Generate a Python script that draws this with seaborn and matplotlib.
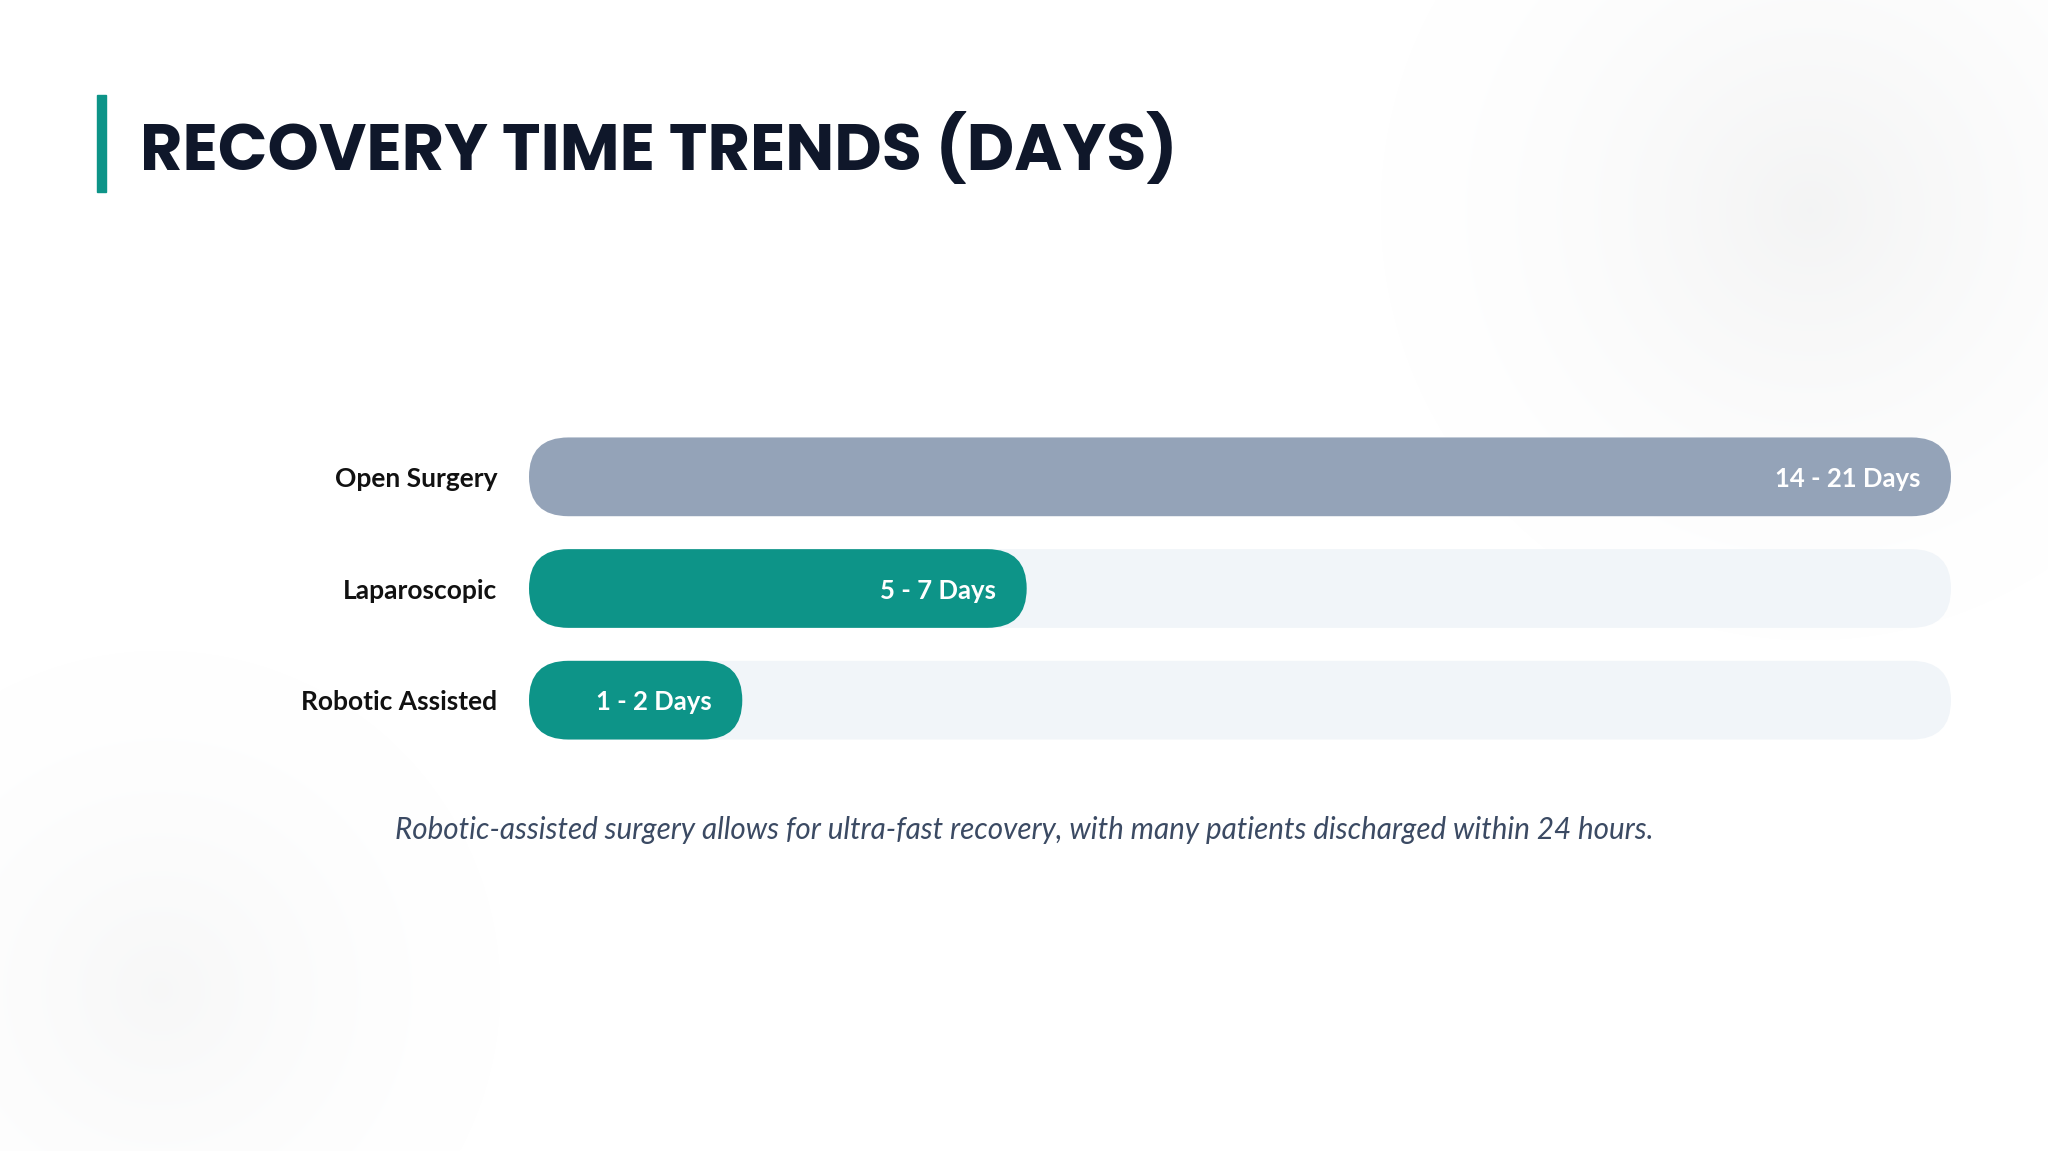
import numpy as np
import pandas as pd
import matplotlib
matplotlib.use("Agg")
import matplotlib.pyplot as plt
from matplotlib.patches import FancyBboxPatch, Rectangle
import seaborn as sns

# ---- data ----
categories = ["Open Surgery", "Laparoscopic", "Robotic Assisted"]
bar_pct = [100, 35, 15]          # bar length as % of track
value_labels = ["14 - 21 Days", "5 - 7 Days", "1 - 2 Days"]
track_pct = [100, 100, 100]
title = "RECOVERY TIME TRENDS (DAYS)"
caption = "Robotic-assisted surgery allows for ultra-fast recovery, with many patients discharged within 24 hours."

TEAL = "#0d9488"
SLATE = "#94a3b8"
TRACK = "#f1f5f9"
DARK = "#0f172a"

sns.set_theme(style="white")
plt.rcParams["font.family"] = ["Lato", "DejaVu Sans"]

W, H = 2048, 1151
DPI = 100
fig = plt.figure(figsize=(W / DPI, H / DPI), dpi=DPI)
fig.patch.set_facecolor("white")

# ---- background soft radial glows ----
bg = fig.add_axes([0, 0, 1, 1], zorder=-10)
yy, xx = np.mgrid[0:H, 0:W]
def glow(cx, cy, r, strength):
    d = np.sqrt((xx - cx) ** 2 + (yy - cy) ** 2) / r
    return strength * np.clip(1 - d, 0, 1) ** 1.5
shade = glow(1810, 210, 430, 0.045) + glow(160, 990, 340, 0.03)
img = np.ones((H, W, 3)) - shade[..., None] * np.array([1.0, 0.97, 0.95])
bg.imshow(img, extent=[0, W, H, 0], aspect="auto", interpolation="bilinear")
bg.set_xlim(0, W); bg.set_ylim(H, 0); bg.axis("off")

# title accent + title
fig.patches.append(Rectangle((97 / W, 1 - 192 / H), 9 / W, 97 / H,
                             transform=fig.transFigure, color=TEAL, zorder=5))
fig.text(140 / W, 1 - 170 / H, title, fontsize=47, fontweight="bold",
         family=["Poppins", "Inter", "DejaVu Sans"], color=DARK, va="baseline", ha="left")

# ---- bar chart ----
ax_left, ax_right = 529, 1951
ax_top, ax_bot = 421, 756
ax = fig.add_axes([ax_left / W, 1 - ax_bot / H, (ax_right - ax_left) / W, (ax_bot - ax_top) / H])
ax.set_facecolor("none")

df = pd.DataFrame({"cat": categories, "track": track_pct, "val": bar_pct})
bw = 0.705
sns.barplot(data=df, y="cat", x="track", color=TRACK, width=bw, ax=ax, orient="h",
            saturation=1)
sns.barplot(data=df, y="cat", x="val", hue="cat", saturation=1,
            palette=[SLATE, TEAL, TEAL], width=bw, ax=ax, orient="h", legend=False)
ax.set_xlim(0, 100)
ax.set_ylim(2.5, -0.5)

# convert rectangles to pills
fig.canvas.draw()
px_per_x = ax.bbox.width / 100.0
px_per_y = ax.bbox.height / 3.0
rects = list(ax.patches)
for p in rects:
    x, y = p.get_x(), p.get_y()
    w, h = p.get_width(), p.get_height()
    fc = p.get_facecolor()
    z = p.get_zorder()
    p.remove()
    r = (h / 2) * px_per_y / px_per_x
    pill = FancyBboxPatch((x, y), w, h,
                          boxstyle=f"round,pad=0,rounding_size={r}",
                          mutation_aspect=px_per_x / px_per_y,
                          facecolor=fc, edgecolor="none", zorder=z)
    ax.add_patch(pill)

# value labels inside bars
pad_x = 31 / px_per_x
for i, (v, lab) in enumerate(zip(bar_pct, value_labels)):
    ax.text(v - pad_x, i, lab, ha="right", va="center_baseline", color="white",
            fontsize=18.5, fontweight="bold", zorder=10)

ax.set_xlabel(""); ax.set_ylabel("")
ax.set_xticks([])
ax.tick_params(axis="y", length=0, pad=23)
for t in ax.get_yticklabels():
    t.set_fontsize(19)
    t.set_fontweight("bold")
    t.set_color("#111111")
    t.set_verticalalignment("center_baseline")
sns.despine(ax=ax, left=True, bottom=True)

# caption
fig.text(0.5, 1 - 828 / H, caption, ha="center", va="center_baseline", fontsize=21.3,
         style="italic", color="#3b4a63")

fig.savefig("out.png", dpi=DPI, facecolor="white")
